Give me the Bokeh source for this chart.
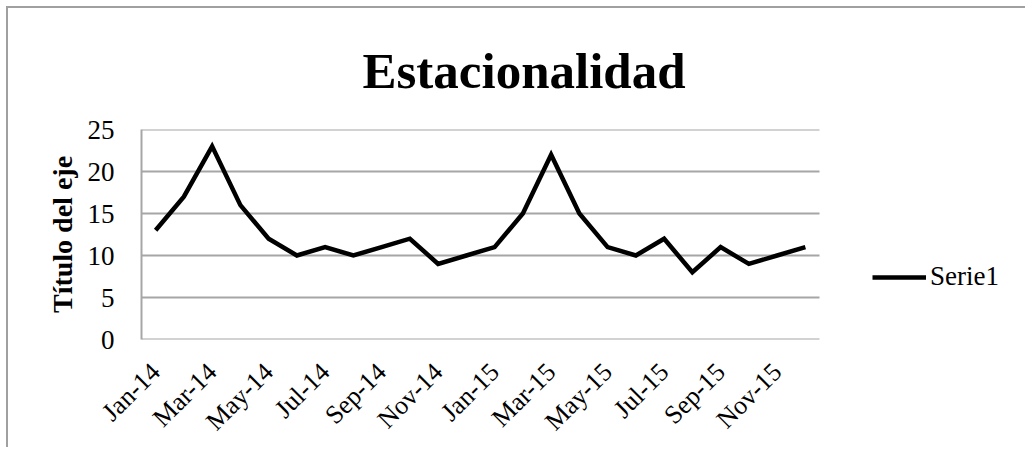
from bokeh.plotting import figure
from bokeh.models import FixedTicker, Legend, Title
from bokeh.embed import file_html
from bokeh.resources import INLINE
import math

months = ["Jan-14", "Feb-14", "Mar-14", "Apr-14", "May-14", "Jun-14",
          "Jul-14", "Aug-14", "Sep-14", "Oct-14", "Nov-14", "Dec-14",
          "Jan-15", "Feb-15", "Mar-15", "Apr-15", "May-15", "Jun-15",
          "Jul-15", "Aug-15", "Sep-15", "Oct-15", "Nov-15", "Dec-15"]
serie1 = [13, 17, 23, 16, 12, 10, 11, 10, 11, 12, 9, 10,
          11, 15, 22, 15, 11, 10, 12, 8, 11, 9, 10, 11]
y_ticks = [0, 5, 10, 15, 20, 25]
title_text = "Estacionalidad"
y_title = "Título del eje"
series_name = "Serie1"

FONT = "Liberation Serif"
GRID = "#a6a6a6"

xs = list(range(len(months)))
n = len(months)

FIG_W, FIG_H = 1019, 441
BL, BT, BB = 133, 121, 108
plot_w_px = 678.0                       # width of the plotting area that holds the 24 categories
cat_px = plot_w_px / n
x_end = -0.5 + (FIG_W - BL) / cat_px   # frame extends to the right to host the legend

p = figure(width=FIG_W, height=FIG_H, output_backend="svg", toolbar_location=None,
           x_range=(-0.5, x_end), y_range=(0, 25),
           min_border_left=BL, min_border_right=0,
           min_border_top=BT, min_border_bottom=BB)
p.styles = {"position": "absolute", "left": "6px", "top": "6px",
            "border-left": "2px solid #a0a0a0", "border-top": "2px solid #a0a0a0"}
p.outline_line_color = None
p.background_fill_color = "white"
p.border_fill_color = "white"

# horizontal gridlines and the category axis line, limited to the category area
p.segment(x0=[-0.5] * len(y_ticks), x1=[n - 0.5] * len(y_ticks), y0=y_ticks, y1=y_ticks,
          line_color=GRID, line_width=2)

r = p.line(xs, serie1, line_color="#000000", line_width=4.5, line_join="miter")

# x axis
xa = p.xaxis[0]
xa.ticker = FixedTicker(ticks=xs[::2])
xa.major_label_overrides = {i: months[i] for i in xs[::2]}
xa.major_label_orientation = math.pi / 4
xa.major_label_text_font = FONT
xa.major_label_text_font_size = "26px"
xa.major_label_text_color = "#000000"
xa.major_label_standoff = 22
xa.major_tick_line_color = None
xa.minor_tick_line_color = None
xa.axis_line_color = None

# y axis
ya = p.yaxis[0]
ya.ticker = FixedTicker(ticks=y_ticks)
ya.major_label_text_font = FONT
ya.major_label_text_font_size = "27px"
ya.major_label_text_color = "#000000"
ya.major_label_standoff = 21
ya.major_tick_line_color = None
ya.minor_tick_line_color = None
ya.axis_line_color = GRID
ya.axis_line_width = 2
ya.axis_label = y_title
ya.axis_label_text_font = FONT
ya.axis_label_text_font_style = "bold"
ya.axis_label_text_font_size = "28px"
ya.axis_label_text_color = "#000000"
ya.axis_label_standoff = 7

p.xgrid.grid_line_color = None
p.ygrid.grid_line_color = None

# title
t = Title(text=title_text, align="left", offset=221, standoff=62,
          text_font=FONT, text_font_style="bold", text_font_size="51px",
          text_color="#000000")
p.add_layout(t, "above")

legend = Legend(items=[(series_name, [r])], location=(731, 47),
                label_text_font=FONT, label_text_font_size="27px",
                label_text_color="#000000",
                glyph_width=54, glyph_height=20, label_height=20,
                label_standoff=4, padding=0, margin=0, spacing=0,
                border_line_color=None, background_fill_alpha=0)
p.add_layout(legend)

open("out.html", "w").write(file_html(p, INLINE))
